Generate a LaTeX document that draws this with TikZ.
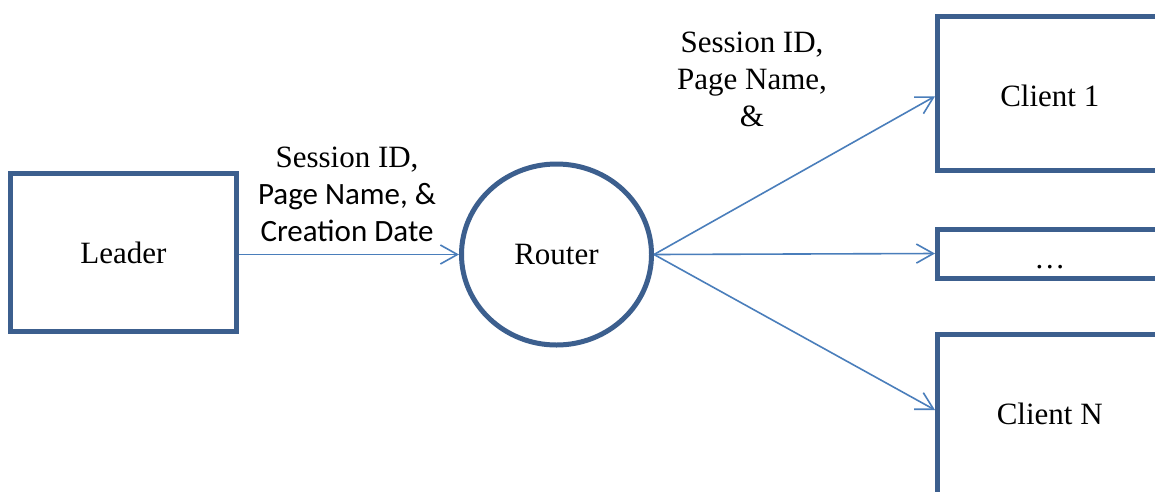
\documentclass[tikz,border=0pt]{standalone}
\usepackage{fontspec}
\setmainfont{Liberation Serif}
\newfontfamily\carlitofont{Carlito}
\usetikzlibrary{arrows.meta,shapes.geometric}
\definecolor{boxblue}{HTML}{3C5F8E}
\definecolor{linkblue}{HTML}{4A7EBB}
\begin{document}
\begin{tikzpicture}[x=1pt,y=-1pt,
  every node/.style={font=\fontsize{31}{37}\selectfont},
  block/.style={draw=boxblue, line width=5pt, rectangle, inner sep=0pt, fill=white},
  hub/.style={draw=boxblue, line width=5pt, ellipse, inner sep=0pt,
              minimum width=190pt, minimum height=181pt, fill=white},
  flow/.style={draw=linkblue, line width=1.6pt,
               -{Straight Barb[length=17pt,width=19pt,line width=1.6pt]}},
  note/.style={align=center, inner sep=0pt, anchor=north}]
  \useasboundingbox (0,0) rectangle (1155,491);
  \clip (0,0) rectangle (1155,491);
  \fill[white] (0,0) rectangle (1155,491);

  % sender, router and the receiving clients
  \node[block, minimum width=226pt, minimum height=158pt] (leader) at (123.5,252.5) {Leader};
  \node[hub] (router) at (556.5,254.5) {Router};
  \node[block, minimum width=224.5pt, minimum height=154.5pt, text height=25.5pt, text depth=0pt]
       (c1) at (1049.75,93.25) {Client 1};
  \node[block, minimum width=224.5pt, minimum height=49pt, text height=29pt, text depth=0pt]
       (cdots) at (1049.75,253.5) {…};
  \node[block, minimum width=224.5pt, minimum height=160pt] (cn) at (1049.75,414) {Client N};

  % message flows
  \draw[flow] (leader.east |- router.west) -- (router.west);
  \draw[flow] (router.east) -- ([yshift=-3pt]c1.west);
  \draw[flow] (router.east) -- (cdots.west);
  \draw[flow] (router.east) -- ([yshift=4pt]cn.west);

  % flow labels
  \node[note] (leaderlabel) at (347,147)
       {Session ID,\\ {\carlitofont Page Name, \&}\\ {\carlitofont Creation Date}};
  \node[note] (routerlabel) at (752,32) {Session ID,\\ Page Name,\\ \&};
\end{tikzpicture}
\end{document}
